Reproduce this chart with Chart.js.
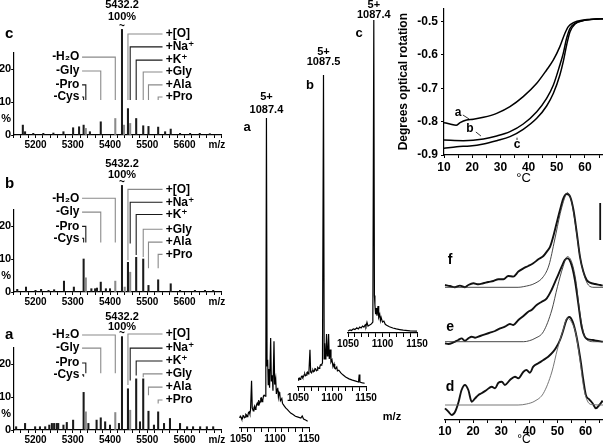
<!DOCTYPE html>
<html><head><meta charset="utf-8">
<script src="https://cdn.jsdelivr.net/npm/chart.js@4.4.1/dist/chart.umd.min.js"></script>
<style>
html,body{margin:0;padding:0;background:#fff;}
#wrap{position:relative;width:603px;height:447px;overflow:hidden;background:#fff;}
#wrap canvas{position:absolute;}
</style></head><body><div id="wrap">
<canvas id="specC" width="235" height="155" style="left:0;top:0"></canvas>
<canvas id="specB" width="235" height="155" style="left:0;top:156.7px"></canvas>
<canvas id="specA" width="235" height="155" style="left:0;top:295px"></canvas>
<canvas id="midA" width="190" height="357" style="left:225px;top:90px"></canvas>
<canvas id="midB" width="110" height="370" style="left:285px;top:40px"></canvas>
<canvas id="midC" width="100" height="360" style="left:335px;top:0"></canvas>
<canvas id="rot" width="210" height="190" style="left:393px;top:0"></canvas>
<canvas id="dsc" width="173" height="257" style="left:430px;top:190px"></canvas>
</div>
<script>
// ---------------- DATA ----------------
const mainMass = 5432.2;
const massTickLabels = [5200, 5300, 5400, 5500, 5600];
const pctTickValues = [0, 5, 10, 15, 20, 25];
const pctTickLabels = ['0', '%', '10', '', '20', ''];
const lossLabels = ['-H\u2082O', '-Gly', '-Pro', '-Cys'];
const lossMasses = [5414.2, 5375.2, 5335.1, 5329.2];
const adductLabels = ['+[O]', '+Na\u207A', '+K\u207A', '+Gly', '+Ala', '+Pro'];
const adductMasses = [5448.2, 5454.2, 5470.3, 5489.2, 5503.3, 5529.3];

// stick spectra [m/z, % intensity]
const sticksC = [[5166,3],[5172,1],[5194,0.5],[5221,0.5],[5248,0.6],[5275,1],[5301,2.2],[5317,2.5],[5329.2,3],[5335.1,2],[5346,1],[5375.2,4],[5414.2,5],[5432.2,32],[5437.6,3],[5448.2,8],[5454.2,3.5],[5470.3,5],[5489.2,2.8],[5503.3,2.6],[5529.3,2.4],[5548,1],[5563,1.8],[5588,0.5],[5615,0.5],[5641,0.5],[5668,0.4]];
const sticksB = [[5151,0.8],[5174.5,1.5],[5200,0.5],[5215,0.8],[5235,0.5],[5250,0.7],[5276.5,3.3],[5303,1.5],[5329.2,10],[5335.1,4.3],[5350,1],[5360,1],[5365,1.2],[5375.2,3],[5389,1],[5400,1],[5414.2,3.3],[5432.2,32.3],[5439.5,1.5],[5448.2,9],[5454.2,6],[5470.3,10.5],[5489.2,10],[5503.3,2],[5529.3,3.7],[5563,2.5],[5588,0.5],[5628,0.5],[5655,0.5],[5677,0.5]];
const sticksA = [[5148,1],[5172,2],[5199,1],[5212,1],[5226,1],[5237,1.5],[5244,2],[5250,2],[5257,2],[5261,2],[5275,1.5],[5284,2.3],[5301,3],[5329.2,11.4],[5335.1,5.5],[5342,2],[5364,3],[5375.2,3.7],[5387,2.5],[5400,1.5],[5414.2,5.3],[5424,2],[5432.2,28.3],[5448.2,12.5],[5454.2,6],[5470.3,15.5],[5480.5,2.5],[5489.2,15.5],[5503.3,5.7],[5518,1.5],[5529.3,5.5],[5545,2],[5561,3.5],[5588,2],[5607,1],[5623,1],[5642,1],[5660,1],[5677,1]];

// 5+ charge-state profiles [m/z, % of base peak]
const chargeLabel = '5+';
const peakMzA = 1087.4, peakMzB = 1087.5, peakMzC = 1087.4;
const profileA = [[1048,3.2],[1049,3.8],[1050,3.5],[1051,2.9],[1052,2.9],[1053,4.0],[1054,3.9],[1055,3.3],[1056,3.5],[1057,4.4],[1058,4.2],[1059,3.7],[1060,3.9],[1061,5.0],[1062,5.2],[1063,4.5],[1064,5.8],[1065.5,15.2],[1066.5,6.5],[1068,5.5],[1069,6.6],[1070,7.1],[1071,6.0],[1072,6.5],[1073,7.6],[1074,8.1],[1075,7.4],[1076,9.0],[1077,7.8],[1078,8.4],[1079,9.6],[1080,9.7],[1081,8.5],[1082,9.0],[1083,10.3],[1084,10.6],[1085.5,10.3],[1086.5,19],[1087.4,100],[1088.3,20],[1089.2,22],[1090,14],[1091,19],[1092,13],[1093.6,29],[1094.6,15],[1096,17],[1097,12],[1098.5,28],[1099.5,14],[1101,16],[1102,11],[1103,12.5],[1104,13],[1105,10],[1106,11.5],[1107,11],[1108,8.8],[1110,9.5],[1111,8],[1112,7.6],[1114,7],[1116,6.4],[1118,6],[1120,5.5],[1123,4.8],[1126,4.4],[1130,3.8],[1134,3.5],[1138,3.2],[1140,3.9],[1142,2.9],[1145,2.6],[1148,2.2]];
const profileB = [[1050,2.2],[1051,2.8],[1052,2.9],[1053,2.4],[1054,2.6],[1055,3.3],[1056,3.5],[1057,3.0],[1058,3.2],[1059,3.9],[1060,4.2],[1061,3.6],[1062,3.8],[1063,4.6],[1064,4.8],[1065,4.2],[1066,4.5],[1067.6,11.9],[1068.6,4.8],[1070,4.5],[1071,5.2],[1072,5.4],[1073,4.9],[1074,5.1],[1075,5.9],[1076,5.8],[1077,5.2],[1078,5.4],[1079,6.3],[1080,6.1],[1081,6.0],[1082,6.4],[1083,7.1],[1084,7.0],[1085,7.3],[1086,7.7],[1087.5,100],[1088.5,9],[1089.2,14],[1090,9],[1091,10],[1092,17],[1093,10],[1094,11],[1095,17],[1096,9],[1097.5,12],[1098.5,8],[1100,8.7],[1101.5,6.5],[1103,7.4],[1104,6],[1105,5.8],[1107,6.4],[1108,5.2],[1110,5.4],[1113,4.5],[1116,3.9],[1120,3.2],[1125,2.6],[1130,2.2],[1135,1.9],[1139,1.6],[1140,4],[1141,1.6],[1145,1.3],[1148,1.2]];
const profileC = [[1050,0.6],[1052,0.9],[1053,1.0],[1055,0.8],[1057,1.2],[1058,1.3],[1060,1.1],[1062,1.5],[1063,1.6],[1065,1.3],[1067,1.9],[1069,1.6],[1071,2.2],[1073,1.9],[1075,2.6],[1076,2.1],[1077.5,3.4],[1079,2.2],[1080,2.2],[1082,2.6],[1084,2.9],[1086,3.5],[1087.4,100],[1088.3,12],[1089,9],[1090,6],[1091,8],[1092,5.5],[1093.5,8.6],[1094.5,5],[1096,6],[1097,4],[1098,5],[1100,3.5],[1102,3.8],[1104,2.8],[1106,2.5],[1110,2],[1115,1.6],[1120,1.3],[1125,1.1],[1130,0.9],[1140,0.7],[1150,0.6]];
const profileTickLabels = [1050, 1100, 1150];

// optical rotation [°C, degrees]
const rotA = [[10,-0.803],[12.1,-0.807],[14.3,-0.811],[15.7,-0.803],[18,-0.795],[20.4,-0.793],[24,-0.787],[28.7,-0.775],[33.4,-0.755],[38.1,-0.725],[42.9,-0.685],[46.4,-0.645],[48.8,-0.615],[51.1,-0.575],[52.9,-0.535],[54.1,-0.515],[55.9,-0.503],[59.4,-0.495],[64.1,-0.492],[66.4,-0.491]];
const rotB = [[10,-0.855],[16.9,-0.857],[24,-0.852],[28.7,-0.843],[33.4,-0.830],[38.1,-0.807],[42.9,-0.770],[46.4,-0.730],[48.8,-0.690],[51.1,-0.630],[52.3,-0.595],[53.5,-0.550],[54.7,-0.520],[56.5,-0.505],[59.4,-0.497],[64.1,-0.492],[66.4,-0.491]];
const rotC = [[10,-0.880],[14.5,-0.875],[19.2,-0.873],[24,-0.867],[28.7,-0.857],[33.4,-0.845],[38.1,-0.823],[42.9,-0.790],[46.4,-0.753],[48.8,-0.715],[51.1,-0.660],[52.3,-0.620],[53.5,-0.570],[54.7,-0.530],[56.5,-0.507],[59.4,-0.497],[64.1,-0.492],[66.4,-0.491]];
const rotTickValues = [-0.9, -0.8, -0.7, -0.6, -0.5];
const tempTickLabels = [10, 20, 30, 40, 50, 60];

// DSC traces [°C, heat capacity, arbitrary units] and fitted transitions
const dscD = [[10,-3.3],[11.2,-6.7],[12.4,-10],[13.6,-6.7],[14.7,1.7],[15.9,15],[17.1,20],[18.3,15],[19.5,3.3],[20.7,6.7],[21.9,10],[23,11.7],[24.8,15],[26.6,18.3],[27.8,16.7],[29,22.3],[30.2,23.3],[31.3,20],[33.1,25],[34.9,28.3],[36.1,26.7],[37.9,33.3],[39,35],[40.2,32.3],[41.4,38.3],[43.2,41.7],[45,45],[46.7,48.3],[48.5,53.3],[49.7,58.3],[50.9,65],[52.1,75],[53.2,85],[54.2,88],[55.4,83.3],[56.8,68.3],[58.2,45],[59.2,25],[60.1,10],[61.3,5.7],[62.5,1.7],[63.7,-3.3],[64.9,0],[66.1,4.3]];
const dscE = [[10,-1.7],[11.2,-2.3],[13,-0.7],[14.7,1.7],[15.9,3.3],[17.1,1],[18.3,3.3],[19.5,5],[20.7,4],[22.5,5.7],[24.2,7.3],[26,9],[27.8,10.7],[29.6,13.3],[31.3,15],[33.1,17.7],[34.3,16.7],[36.1,21.7],[37.9,25.7],[39.6,30],[40.8,31.7],[42.6,36.7],[44.4,40],[46.2,43.3],[47.9,51.7],[49.7,63.3],[51.5,75],[52.6,81.7],[53.6,83.3],[55,76.7],[56.2,61.7],[57.4,38.3],[58.6,15],[59.7,5],[60.9,2.3],[62.7,1.7],[63.8,1],[66.1,0]];
const dscF = [[10,2.3],[11.8,1.3],[13.5,0],[15.3,1.7],[17.1,0],[18.3,2.3],[20.1,4],[21.9,3],[23.6,4],[25.4,5.3],[27.2,6.3],[29,8],[30.8,8],[32.5,11.3],[34.3,10.7],[36.1,15.7],[37.9,19],[39.6,21.3],[41.4,24],[43.2,28],[45,31.3],[46.2,35.7],[47.4,40.7],[48.5,50.7],[49.7,64],[50.9,77.3],[52.1,89],[53.3,93.3],[54.5,90.7],[55.7,77.3],[56.9,54],[58,30.7],[59.2,15.7],[60.4,7.3],[61.6,4.7],[63.4,3.3],[65.2,2.3],[66.1,1.7]];
const fitD = [[10,0],[36,0],[39,1],[42,4],[45,11.7],[48,33],[50,56],[52,75],[53.5,87],[55,83],[56.5,71.7],[58,45],[59.3,18],[60.5,5],[62,0.5],[66.2,0]];
const fitE = [[10,0],[38,0],[40,1],[42,3.3],[45,10],[48,31.7],[50,55],[52,75],[53.5,85],[55,80],[56.5,61.7],[58,28.3],[59.5,6.7],[61,1],[63,0],[66.2,0]];
const fitF = [[10,0],[36,0],[38,0.7],[42,4],[45,10.7],[47,22.3],[49,47.3],[51,74],[52.5,89],[53.5,94.7],[55,85.7],[56.5,60.7],[58,30.7],[59.5,12.3],[61,2.3],[63,0],[66.2,0]];

// ---------------- LAYOUT / STYLE ----------------
const FONT = '"Liberation Sans", Arial, "DejaVu Sans", sans-serif';
const FB = s => `bold ${s}px ${FONT}`;
const DARK = '#1a1a1a', GRAY = '#8a8a8a';
const GRAY_STICKS = [5335.1, 5414.2, 5437.6, 5439.5, 5454.2];
const LOSS_COLORS = [GRAY, GRAY, DARK, DARK];
const ADDUCT_COLORS = [GRAY, DARK, DARK, GRAY, GRAY, GRAY];
const LEFT_TEXT_MZ = 5318, LEFT_LEAD_MZ = 5325, RIGHT_TEXT_MZ = 5549.5, RIGHT_LEAD_MZ = 5541, LETTER_MZ = 5118, MZ_LABEL_MZ = 5687;
const PANEL_C = {letter:'c', letterY:30.6, num:39.4, pct:35.8, squig:33, left:[23.6,19.4,15.2,11.5], leftEnd:[10.6,10.6,10.6,10.6], right:[30.6,26.7,22.7,19.1,15.2,11.5], rightEnd:[10.6,10.6,10.6,10.6,10.6,10.6]};
const PANEL_B = {letter:'b', letterY:32.9, num:38.7, pct:35.4, squig:33.2, left:[28.4,24.2,19.9,16.3], leftEnd:[15,15,15,15], right:[31.1,27.2,23.5,19,15.1,11.4], rightEnd:[9.6,14.7,11.2,10.6,7.2,7.2]};
const PANEL_A = {letter:'a', letterY:28.8, num:34.2, pct:31.2, squig:29.4, left:[28.8,24.8,20.3,16.7], leftEnd:[17.2,17.2,17.2,16.1], right:[29.1,24.8,20.9,17,13,9.1], rightEnd:[13.6,15,16.5,16,10.5,8]};
const OFFSET_D = 15, OFFSET_E = 78.3, OFFSET_F = 132.7;

function range(a, b, s) { const r = []; for (let v = a; v <= b + 1e-9; v += s) r.push(Math.round(v * 1000) / 1000); return r; }
const MZ_MINOR = range(5140, 5700, 20);
const PROF_MINOR = range(1050, 1150, 10);
const TEMP_MINOR = range(10, 65, 5);

function fixBox(size) {
  return s => {
    if (s.isHorizontal()) s.height = size; else s.width = size;
    s.paddingLeft = 0; s.paddingRight = 0; s.paddingTop = 0; s.paddingBottom = 0;
  };
}
function setTicks(vals) { return s => { s.ticks = vals.map(v => ({value: v})); }; }

function annotations(spec) {
  return {
    id: 'annot',
    afterDatasetsDraw(chart) {
      const {ctx, scales} = chart;
      const X = v => scales.x.getPixelForValue(v), Y = v => scales.y.getPixelForValue(v);
      ctx.save();
      (spec.lines || []).forEach(l => {
        ctx.beginPath();
        l.pts.forEach((p, i) => { const px = X(p[0]), py = Y(p[1]); if (i) ctx.lineTo(px, py); else ctx.moveTo(px, py); });
        ctx.strokeStyle = l.color || '#000'; ctx.lineWidth = l.width || 1; ctx.stroke();
      });
      (spec.texts || []).forEach(t => {
        ctx.font = t.font; ctx.fillStyle = t.color || '#000';
        ctx.textAlign = t.align || 'center'; ctx.textBaseline = 'middle';
        ctx.fillText(t.text, t.px ? t.x : X(t.x), t.px ? t.y : Y(t.y));
      });
      ctx.restore();
    }
  };
}

const baseOpts = () => ({responsive: false, animation: false, devicePixelRatio: 1, events: [],
  plugins: {legend: {display: false}, tooltip: {enabled: false}}});

function axisX(min, max, ticks, labels, fontSize, height, tickLen) {
  return {type: 'linear', min, max, bounds: 'data', offset: false,
    afterBuildTicks: setTicks(ticks), afterFit: fixBox(height),
    grid: {drawOnChartArea: false, drawTicks: true, tickLength: tickLen, color: '#000', offset: false},
    border: {display: true, color: '#000', width: 1.2},
    ticks: {autoSkip: false, maxRotation: 0, minRotation: 0, padding: 1, color: '#000',
      font: {family: FONT, size: fontSize, weight: 'bold'},
      callback: v => labels.includes(v) ? String(v) : ''}};
}

// ---------------- MASS SPECTRA (left) ----------------
function stickChart(id, sticks, L) {
  const texts = [], lines = [];
  texts.push({text: mainMass.toFixed(1), x: mainMass, y: L.num, font: FB(11)});
  texts.push({text: '100%', x: mainMass, y: L.pct, font: FB(11)});
  texts.push({text: '~', x: mainMass, y: L.squig, font: FB(10)});
  texts.push({text: L.letter, x: LETTER_MZ, y: L.letterY, font: FB(15), align: 'left'});
  texts.push({text: 'm/z', x: MZ_LABEL_MZ, y: -3.1, font: FB(10)});
  lossLabels.forEach((lab, i) => {
    texts.push({text: lab, x: LEFT_TEXT_MZ, y: L.left[i], align: 'right', font: FB(12)});
    lines.push({pts: [[LEFT_LEAD_MZ, L.left[i]], [lossMasses[i], L.left[i]], [lossMasses[i], L.leftEnd[i]]], color: LOSS_COLORS[i], width: 1.1});
  });
  adductLabels.forEach((lab, i) => {
    texts.push({text: lab, x: RIGHT_TEXT_MZ, y: L.right[i], align: 'left', font: FB(12)});
    lines.push({pts: [[RIGHT_LEAD_MZ, L.right[i]], [adductMasses[i], L.right[i]], [adductMasses[i], L.rightEnd[i]]], color: ADDUCT_COLORS[i], width: 1.1});
  });
  const o = baseOpts();
  o.layout = {padding: {top: 52.5, right: 13.25, left: 0, bottom: 0}};
  o.scales = {
    x: axisX(5140, 5700, MZ_MINOR, massTickLabels, 10, 20, 3),
    y: {type: 'linear', min: 0, max: 25, bounds: 'data',
      afterBuildTicks: setTicks(pctTickValues), afterFit: fixBox(13.15),
      grid: {drawOnChartArea: false, tickLength: 2, color: c => (c.tick && c.tick.value % 10 === 0) ? '#000' : 'rgba(0,0,0,0)'},
      border: {display: true, color: '#000', width: 1.2},
      ticks: {padding: 0, color: '#000', font: {family: FONT, size: 11, weight: 'bold'},
        callback: v => pctTickLabels[pctTickValues.indexOf(v)] ?? ''}}
  };
  new Chart(document.getElementById(id), {
    type: 'bar',
    data: {datasets: [{data: sticks.map(p => ({x: p[0], y: p[1]})), barThickness: 1.4, clip: false, borderWidth: 0,
      backgroundColor: c => (c.raw && GRAY_STICKS.includes(c.raw.x)) ? GRAY : DARK}]},
    options: o,
    plugins: [annotations({texts, lines})]
  });
}
stickChart('specC', sticksC, PANEL_C);
stickChart('specB', sticksB, PANEL_B);
stickChart('specA', sticksA, PANEL_A);

// ---------------- 5+ PROFILES (middle) ----------------
function profileChart(id, prof, peakMz, letter, letterMz, lay) {
  const o = baseOpts();
  o.layout = {padding: {top: lay.top, left: lay.left, right: lay.right, bottom: 0}};
  o.scales = {
    x: axisX(lay.min, 1150, PROF_MINOR, profileTickLabels, 10, lay.axis, 4),
    y: {display: false, min: 0, max: 100, bounds: 'data'}
  };
  const texts = [
    {text: chargeLabel, x: peakMz, y: lay.chargeY, font: FB(11)},
    {text: peakMz.toFixed(1), x: peakMz, y: lay.mzY, font: FB(11)},
    {text: letter, x: letterMz, y: lay.letterY, font: FB(13)}
  ];
  if (lay.extra) texts.push(lay.extra);
  new Chart(document.getElementById(id), {
    type: 'line',
    data: {datasets: [{data: prof.map(p => ({x: p[0], y: p[1]})), borderColor: '#000', borderWidth: 1.2, pointRadius: 0, tension: 0, clip: false}]},
    options: o,
    plugins: [annotations({texts})]
  });
}
profileChart('midA', profileA, peakMzA, 'a', 1058.8, {min: 1048.5, top: 28, left: 15, right: 106, axis: 19, chargeY: 106.8, mzY: 102.6, letterY: 96.8,
  extra: {text: 'm/z', x: 167, y: 327, px: true, font: FB(11)}});
profileChart('midB', profileB, peakMzB, 'b', 1067.6, {min: 1050, top: 35, left: 13, right: 29, axis: 23, chargeY: 107.4, mzY: 104.2, letterY: 96.8});
profileChart('midC', profileC, peakMzC, 'c', 1066, {min: 1050, top: 20, left: 13, right: 18, axis: 27, chargeY: 104.8, mzY: 101.6, letterY: 95.8});

// ---------------- OPTICAL ROTATION (top right) ----------------
(function () {
  const o = baseOpts();
  o.layout = {padding: {top: 8.3, left: 0, right: 0, bottom: 0}};
  const xs = axisX(10, 66.4, TEMP_MINOR, tempTickLabels, 12, 35, 3);
  xs.ticks.padding = 2;
  xs.title = {display: true, text: '\u00B0C', color: '#000', font: {family: FONT, size: 13}, padding: {top: 0, bottom: 4}};
  o.scales = {
    x: xs,
    y: {type: 'linear', min: -0.9, max: -0.46, bounds: 'data', afterBuildTicks: setTicks(rotTickValues), afterFit: fixBox(51),
      grid: {drawOnChartArea: false, tickLength: 3, color: '#000'},
      border: {display: true, color: '#000', width: 1.2},
      title: {display: true, text: 'Degrees optical rotation', color: '#000', font: {family: FONT, size: 12, weight: 'bold'}, padding: {top: 3, bottom: 0}},
      ticks: {padding: 3, color: '#000', font: {family: FONT, size: 12, weight: 'bold'}, callback: v => v.toFixed(1)}}
  };
  const ds = [rotA, rotB, rotC].map(r => ({data: r.map(p => ({x: p[0], y: p[1]})), borderColor: '#000', borderWidth: 1.5, pointRadius: 0, cubicInterpolationMode: 'monotone'}));
  new Chart(document.getElementById('rot'), {
    type: 'line', data: {datasets: ds}, options: o,
    plugins: [annotations({
      texts: [{text: 'a', x: 15, y: -0.774, font: FB(12)}, {text: 'b', x: 19.2, y: -0.822, font: FB(12)}, {text: 'c', x: 35.9, y: -0.870, font: FB(12)}],
      lines: [{pts: [[16.7, -0.780], [18.9, -0.792]], width: 0.8}, {pts: [[21.3, -0.831], [23.1, -0.843]], width: 0.8}, {pts: [[35.9, -0.848], [35.9, -0.855]], width: 0.8}]
    })]
  });
})();

// ---------------- DSC (bottom right) ----------------
(function () {
  const o = baseOpts();
  o.layout = {padding: {top: 5, left: 15, right: 0, bottom: 0}};
  const xs = axisX(10, 66.2, TEMP_MINOR, tempTickLabels, 12, 27, 3);
  xs.ticks.padding = 1;
  xs.title = {display: true, text: '\u00B0C', color: '#000', font: {family: FONT, size: 12}, padding: {top: 0, bottom: 0}};
  o.scales = {x: xs, y: {display: false, min: 0, max: 225, bounds: 'data'}};
  const mk = (arr, off, w, col) => ({data: arr.map(p => ({x: p[0], y: p[1] + off})), borderColor: col, borderWidth: w, pointRadius: 0, cubicInterpolationMode: 'monotone', clip: false});
  const ds = [
    mk(fitD, OFFSET_D, 0.9, '#666'), mk(fitE, OFFSET_E, 0.9, '#333'), mk(fitF, OFFSET_F, 0.9, '#333'),
    mk(dscD, OFFSET_D, 1.9, '#111'), mk(dscE, OFFSET_E, 1.9, '#111'), mk(dscF, OFFSET_F, 1.9, '#111')
  ];
  new Chart(document.getElementById('dsc'), {
    type: 'line', data: {datasets: ds}, options: o,
    plugins: [annotations({
      texts: [{text: 'f', x: 11.8, y: 160, font: FB(14)}, {text: 'e', x: 11.8, y: 93, font: FB(14)}, {text: 'd', x: 11.8, y: 33, font: FB(14)}],
      lines: [{pts: [[65.2, 180], [65.2, 217]], width: 1.8, color: '#111'}]
    })]
  });
})();
</script></body></html>
